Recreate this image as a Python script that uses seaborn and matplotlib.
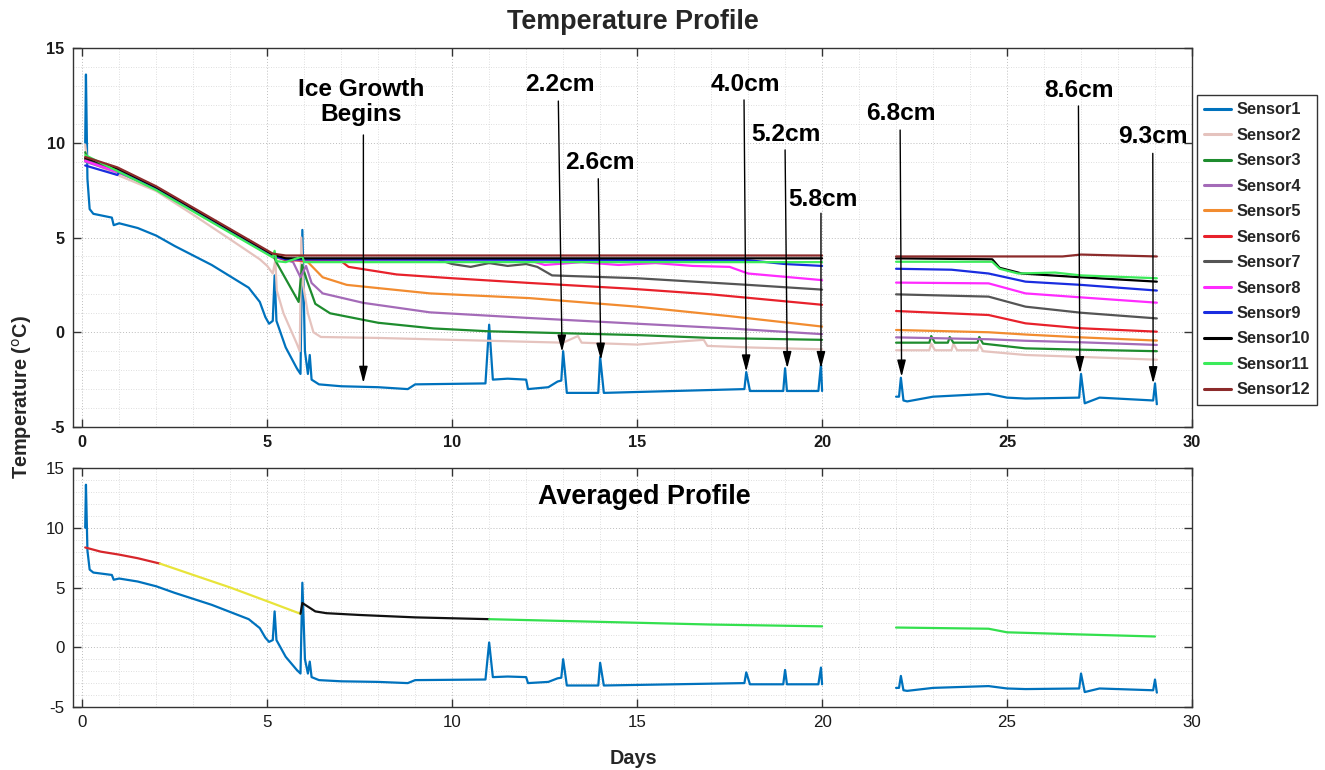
import numpy as np
import pandas as pd
import matplotlib
matplotlib.use("Agg")
import matplotlib.pyplot as plt
import seaborn as sns
from matplotlib import font_manager as fm
from matplotlib.lines import Line2D
from matplotlib.ticker import MultipleLocator

# ---------------- data ----------------
sensor_names = ["Sensor1", "Sensor2", "Sensor3", "Sensor4", "Sensor5", "Sensor6",
                "Sensor7", "Sensor8", "Sensor9", "Sensor10", "Sensor11", "Sensor12"]
sensor_colors = ["#0072BD", "#E5C3BE", "#1E8C2E", "#A46BB8", "#F28C30", "#E8212B",
                 "#555555", "#FF2BFF", "#1A2DE0", "#000000", "#3BEB5A", "#8C2B2B"]

s1_a_x = [0.08, 0.1, 0.14, 0.2, 0.3, 0.8, 0.85, 1.0, 1.5, 2.0, 2.5, 3.0, 3.5, 4.0, 4.5, 4.8,
          4.95, 5.05, 5.15, 5.2, 5.25, 5.5, 5.8, 5.9, 5.95, 6.02, 6.1, 6.15, 6.2, 6.4, 7.0,
          8.0, 8.8, 9.0, 10.9, 11.0, 11.1, 11.5, 12.0, 12.05, 12.6, 12.85, 12.95, 13.0, 13.1,
          13.95, 14.0, 14.1, 16.0, 17.9, 17.95, 18.05, 18.95, 19.0, 19.05, 19.9, 19.97, 20.0]
s1_a_y = [10.0, 13.6, 8.1, 6.5, 6.25, 6.05, 5.65, 5.75, 5.5, 5.1, 4.55, 4.05, 3.55, 2.95, 2.35, 1.6,
          0.8, 0.45, 0.6, 3.0, 0.6, -0.8, -1.9, -2.2, 5.4, -1.0, -2.2, -1.2, -2.5, -2.75, -2.85,
          -2.9, -3.0, -2.75, -2.7, 0.4, -2.5, -2.45, -2.5, -3.0, -2.9, -2.6, -2.55, -1.0, -3.2,
          -3.2, -1.3, -3.2, -3.1, -3.0, -2.1, -3.1, -3.1, -1.9, -3.1, -3.1, -1.7, -3.1]
s1_b_x = [22.0, 22.08, 22.13, 22.2, 22.3, 23.0, 24.5, 25.0, 25.5, 26.95, 27.0, 27.1, 27.5, 28.95, 29.0, 29.05]
s1_b_y = [-3.4, -3.4, -2.4, -3.6, -3.65, -3.4, -3.25, -3.45, -3.5, -3.45, -2.2, -3.75, -3.45, -3.6, -2.7, -3.8]

s2_a_x = [0.08, 0.12, 0.2, 0.95, 2.0, 3.0, 4.0, 4.8, 5.0, 5.15, 5.22, 5.26, 5.44, 5.8, 5.88, 5.92,
          5.97, 6.1, 6.25, 6.45, 8.0, 10.0, 13.0, 13.4, 13.5, 15.0, 16.8, 16.9, 18.0, 20.0]
s2_a_y = [9.9, 9.2, 9.0, 8.3, 7.45, 6.2, 4.9, 3.85, 3.5, 3.1, 3.8, 2.2, 1.0, -0.6, -1.0, 5.0,
          2.5, 1.0, 0.0, -0.25, -0.3, -0.4, -0.55, -0.2, -0.55, -0.65, -0.4, -0.72, -0.8, -0.9]
s2_b_x = [22.0, 22.9, 22.95, 23.05, 23.5, 23.55, 23.65, 24.2, 24.25, 24.35, 25.5, 27.0, 29.05]
s2_b_y = [-0.95, -0.95, -0.6, -0.95, -0.95, -0.6, -0.95, -0.95, -0.65, -1.0, -1.2, -1.3, -1.45]

s3_a_x = [0.08, 0.15, 0.95, 2.0, 5.15, 5.2, 5.26, 5.62, 5.85, 5.94, 6.07, 6.3, 6.7, 8.0, 9.5,
          11.0, 13.0, 15.0, 17.0, 20.0]
s3_a_y = [9.5, 9.1, 8.5, 7.55, 4.0, 3.9, 3.65, 2.4, 1.6, 3.55, 2.75, 1.5, 1.0, 0.5, 0.2,
          0.05, -0.05, -0.15, -0.3, -0.4]
s3_b_x = [22.0, 22.9, 22.95, 23.05, 23.4, 23.45, 23.55, 24.2, 24.25, 24.35, 25.5, 27.0, 29.05]
s3_b_y = [-0.55, -0.55, -0.2, -0.55, -0.55, -0.25, -0.55, -0.55, -0.25, -0.6, -0.85, -0.92, -1.0]

s4_a_x = [0.08, 0.95, 2.0, 5.15, 5.7, 5.9, 6.05, 6.2, 6.5, 7.6, 9.4, 12.1, 15.0, 17.5, 20.0]
s4_a_y = [9.0, 8.45, 7.6, 4.0, 3.7, 2.9, 3.5, 2.6, 2.05, 1.55, 1.05, 0.75, 0.45, 0.2, -0.1]
s4_b_x = [22.0, 24.5, 25.5, 27.0, 29.05]
s4_b_y = [-0.27, -0.37, -0.45, -0.53, -0.67]

s5_a_x = [0.08, 0.95, 2.0, 5.15, 6.1, 6.5, 7.15, 9.4, 12.1, 15.0, 17.5, 20.0]
s5_a_y = [9.1, 8.55, 7.6, 4.05, 3.7, 2.9, 2.5, 2.05, 1.8, 1.35, 0.85, 0.3]
s5_b_x = [22.0, 24.5, 25.5, 27.0, 29.05]
s5_b_y = [0.12, 0.0, -0.12, -0.27, -0.44]

s6_a_x = [0.08, 0.95, 2.0, 5.15, 5.5, 7.0, 7.2, 8.5, 10.0, 12.1, 14.8, 17.0, 20.0]
s6_a_y = [9.15, 8.6, 7.6, 4.05, 3.8, 3.75, 3.45, 3.05, 2.85, 2.6, 2.3, 2.0, 1.45]
s6_b_x = [22.0, 24.5, 25.5, 27.0, 29.05]
s6_b_y = [1.12, 0.91, 0.47, 0.21, 0.03]

s7_a_x = [0.08, 0.95, 2.0, 5.15, 5.5, 9.6, 10.0, 10.5, 11.0, 11.5, 12.0, 12.3, 12.7, 15.0, 18.0, 20.0]
s7_a_y = [9.1, 8.6, 7.6, 4.05, 3.85, 3.85, 3.6, 3.45, 3.65, 3.5, 3.6, 3.45, 3.0, 2.85, 2.5, 2.25]
s7_b_x = [22.0, 24.5, 25.5, 27.0, 29.05]
s7_b_y = [2.0, 1.88, 1.35, 1.03, 0.73]

s8_a_x = [0.08, 0.95, 2.0, 5.15, 5.5, 12.0, 12.5, 13.5, 14.5, 15.5, 16.5, 17.5, 18.0, 20.0]
s8_a_y = [9.05, 8.45, 7.6, 4.05, 3.85, 3.85, 3.55, 3.7, 3.55, 3.65, 3.5, 3.45, 3.1, 2.75]
s8_b_x = [22.0, 24.5, 25.5, 27.0, 29.05]
s8_b_y = [2.62, 2.58, 2.05, 1.84, 1.56]

s9_a_x = [0.08, 0.95, 1.0, 2.0, 5.15, 5.5, 18.0, 19.0, 20.0]
s9_a_y = [8.8, 8.3, 8.45, 7.6, 4.05, 3.85, 3.8, 3.6, 3.5]
s9_b_x = [22.0, 23.5, 24.5, 25.5, 27.0, 29.05]
s9_b_y = [3.35, 3.3, 3.1, 2.67, 2.5, 2.2]

s10_a_x = [0.08, 0.95, 2.0, 5.15, 5.5, 20.0]
s10_a_y = [9.2, 8.65, 7.65, 4.1, 3.9, 3.9]
s10_b_x = [22.0, 24.6, 24.8, 25.4, 27.0, 29.05]
s10_b_y = [3.9, 3.85, 3.4, 3.1, 2.9, 2.67]

s11_a_x = [0.08, 0.95, 2.0, 5.15, 5.2, 5.25, 5.5, 5.95, 6.0, 20.0]
s11_a_y = [9.35, 8.5, 7.5, 3.95, 4.3, 3.75, 3.7, 4.0, 3.7, 3.7]
s11_b_x = [22.0, 24.6, 24.8, 25.3, 26.3, 27.0, 29.05]
s11_b_y = [3.72, 3.72, 3.35, 3.1, 3.15, 3.0, 2.85]

s12_a_x = [0.08, 0.95, 2.0, 5.15, 5.5, 20.0]
s12_a_y = [9.25, 8.7, 7.7, 4.15, 4.05, 4.05]
s12_b_x = [22.0, 26.5, 27.0, 29.05]
s12_b_y = [4.0, 4.0, 4.1, 4.0]

# averaged profile pieces
avg_red_x = [0.08, 0.5, 1.0, 1.5, 2.1]
avg_red_y = [8.35, 8.0, 7.75, 7.45, 7.0]
avg_yellow_x = [2.1, 3.0, 4.0, 5.0, 5.9]
avg_yellow_y = [7.0, 6.05, 5.0, 3.85, 2.8]
avg_black_x = [5.9, 5.95, 6.1, 6.3, 6.6, 7.5, 9.0, 11.0]
avg_black_y = [2.8, 3.7, 3.4, 3.0, 2.85, 2.7, 2.5, 2.35]
avg_green1_x = [11.0, 13.0, 15.0, 17.0, 20.0]
avg_green1_y = [2.35, 2.2, 2.05, 1.9, 1.75]
avg_green2_x = [22.0, 24.5, 25.0, 27.0, 29.0]
avg_green2_y = [1.65, 1.55, 1.25, 1.07, 0.9]
avg_colors = {"red": "#D7262B", "yellow": "#E8E43A", "black": "#111111", "green": "#33E04E"}

# annotations: label, text position, arrow tail, arrow tip (data coords of top axes)
ann_labels = ["Ice Growth\nBegins", "2.2cm", "2.6cm", "4.0cm", "5.2cm", "5.8cm", "6.8cm", "8.6cm", "9.3cm"]
ann_text_x = [7.55, 12.9, 14.0, 17.92, 19.03, 20.02, 22.14, 26.95, 28.95]
ann_text_y = [12.15, 13.05, 8.97, 13.05, 10.41, 7.03, 11.55, 12.78, 10.32]
ann_tail_x = [7.6, 12.87, 13.95, 17.89, 19.0, 19.97, 22.11, 26.93, 28.94]
ann_tail_y = [10.41, 12.2, 8.1, 12.26, 9.62, 6.28, 10.67, 11.94, 9.44]
ann_tip_x = [7.6, 12.97, 14.02, 17.95, 19.06, 19.97, 22.15, 26.97, 28.95]
ann_tip_y = [-2.68, -1.03, -1.46, -2.08, -1.9, -1.9, -2.35, -2.17, -2.7]

# ---------------- build tidy frames ----------------
seg_lists = {
    "Sensor1": [(s1_a_x, s1_a_y), (s1_b_x, s1_b_y)],
    "Sensor2": [(s2_a_x, s2_a_y), (s2_b_x, s2_b_y)],
    "Sensor3": [(s3_a_x, s3_a_y), (s3_b_x, s3_b_y)],
    "Sensor4": [(s4_a_x, s4_a_y), (s4_b_x, s4_b_y)],
    "Sensor5": [(s5_a_x, s5_a_y), (s5_b_x, s5_b_y)],
    "Sensor6": [(s6_a_x, s6_a_y), (s6_b_x, s6_b_y)],
    "Sensor7": [(s7_a_x, s7_a_y), (s7_b_x, s7_b_y)],
    "Sensor8": [(s8_a_x, s8_a_y), (s8_b_x, s8_b_y)],
    "Sensor9": [(s9_a_x, s9_a_y), (s9_b_x, s9_b_y)],
    "Sensor10": [(s10_a_x, s10_a_y), (s10_b_x, s10_b_y)],
    "Sensor11": [(s11_a_x, s11_a_y), (s11_b_x, s11_b_y)],
    "Sensor12": [(s12_a_x, s12_a_y), (s12_b_x, s12_b_y)],
}
rows = []
for name in sensor_names:
    for k, (xs, ys) in enumerate(seg_lists[name]):
        for x, y in zip(xs, ys):
            rows.append({"day": x, "temp": y, "sensor": name, "seg": f"{name}_{k}"})
df = pd.DataFrame(rows)

avg_pieces = [("red", avg_red_x, avg_red_y), ("yellow", avg_yellow_x, avg_yellow_y),
              ("black", avg_black_x, avg_black_y), ("green", avg_green1_x, avg_green1_y),
              ("green", avg_green2_x, avg_green2_y)]
arows = []
for k, (c, xs, ys) in enumerate(avg_pieces):
    for x, y in zip(xs, ys):
        arows.append({"day": x, "temp": y, "part": c, "seg": k})
dfa = pd.DataFrame(arows)
df1 = df[df["sensor"] == "Sensor1"]

# ---------------- style ----------------
sns.set_style("ticks")
names = {f.name for f in fm.fontManager.ttflist}
if "Liberation Sans Narrow" in names:
    FAM, S = "Liberation Sans Narrow", 1.0
else:
    FAM, S = "Liberation Sans", 0.84
plt.rcParams["font.family"] = [FAM, "DejaVu Sans"]
plt.rcParams["axes.unicode_minus"] = False

W, H = 1325, 770
fig = plt.figure(figsize=(W / 100, H / 100), dpi=100)
ax1 = fig.add_axes([73 / W, 1 - 427 / H, (1192 - 73) / W, (427 - 48) / H])
ax2 = fig.add_axes([73 / W, 1 - 707 / H, (1192 - 73) / W, (707 - 468) / H])

pal = dict(zip(sensor_names, sensor_colors))
sns.lineplot(data=df, x="day", y="temp", hue="sensor", units="seg", estimator=None,
             sort=False, palette=pal, hue_order=sensor_names, linewidth=1.6,
             legend=False, ax=ax1)
sns.lineplot(data=df1, x="day", y="temp", hue="sensor", units="seg", estimator=None,
             sort=False, palette=pal, linewidth=1.6, legend=False, ax=ax2)
sns.lineplot(data=dfa, x="day", y="temp", hue="part", units="seg", estimator=None,
             sort=False, palette=avg_colors, linewidth=1.6, legend=False, ax=ax2)

for ax, bold in ((ax1, True), (ax2, False)):
    ax.set_xlim(-0.25, 30)
    ax.set_ylim(-5, 15)
    ax.set_xticks([0, 5, 10, 15, 20, 25, 30])
    ax.set_yticks([-5, 0, 5, 10, 15])
    ax.xaxis.set_minor_locator(MultipleLocator(1))
    ax.yaxis.set_minor_locator(MultipleLocator(1))
    ax.grid(which="major", linestyle=(0, (1, 2)), color="#bdbdbd", linewidth=0.7)
    ax.grid(which="minor", linestyle=(0, (1, 2)), color="#d4d4d4", linewidth=0.6)
    ax.set_axisbelow(True)
    ax.tick_params(which="major", direction="in", length=6, width=1.0, color="#333333",
                   top=True, right=True, labelsize=(14 if bold else 14.5) * S,
                   labelcolor="#1a1a1a", pad=6)
    ax.tick_params(which="minor", length=0)
    for lab in ax.get_xticklabels() + ax.get_yticklabels():
        lab.set_fontweight("bold" if bold else "normal")
    for sp in ax.spines.values():
        sp.set_visible(True)
        sp.set_color("#333333")
        sp.set_linewidth(1.0)
    ax.set_xlabel("")
    ax.set_ylabel("")

# annotations
for lab, tx, ty, ax_, ay_, bx, by in zip(ann_labels, ann_text_x, ann_text_y,
                                          ann_tail_x, ann_tail_y, ann_tip_x, ann_tip_y):
    ax1.annotate("", xy=(bx, by), xytext=(ax_, ay_),
                 arrowprops=dict(arrowstyle="-|>,head_length=0.5,head_width=0.13",
                                 color="black", lw=1.0, mutation_scale=20,
                                 shrinkA=0, shrinkB=0))
    ax1.text(tx, ty, lab, ha="center", va="center", fontsize=21 * S,
             fontweight="bold", color="black", linespacing=1.15)

ax2.text(15.2, 12.57, "Averaged Profile", ha="center", va="center",
         fontsize=23 * S, fontweight="bold", color="black")

fig.text(632.5 / W, 1 - 22 / H, "Temperature Profile", ha="center", va="center",
         fontsize=23 * S, fontweight="bold")
fig.text(22 / W, 1 - 397 / H, "Temperature ($^{\\mathrm{o}}$C)", rotation=90,
         ha="center", va="center", fontsize=17 * S, fontweight="bold")
fig.text(633 / W, 1 - 758 / H, "Days", ha="center", va="center",
         fontsize=17 * S, fontweight="bold")

handles = [Line2D([0], [0], color=c, lw=2.2) for c in sensor_colors]
leg = fig.legend(handles, sensor_names, loc="upper left",
                 bbox_to_anchor=(1197 / W, 1 - 95 / H), frameon=True, fancybox=False,
                 framealpha=1, edgecolor="#333333", prop={"size": 14 * S, "weight": "bold"},
                 handlelength=1.65, handletextpad=0.3, labelspacing=0.64,
                 borderpad=0.45, borderaxespad=0)
leg.get_frame().set_linewidth(1.0)

fig.savefig("out.png", dpi=100)
